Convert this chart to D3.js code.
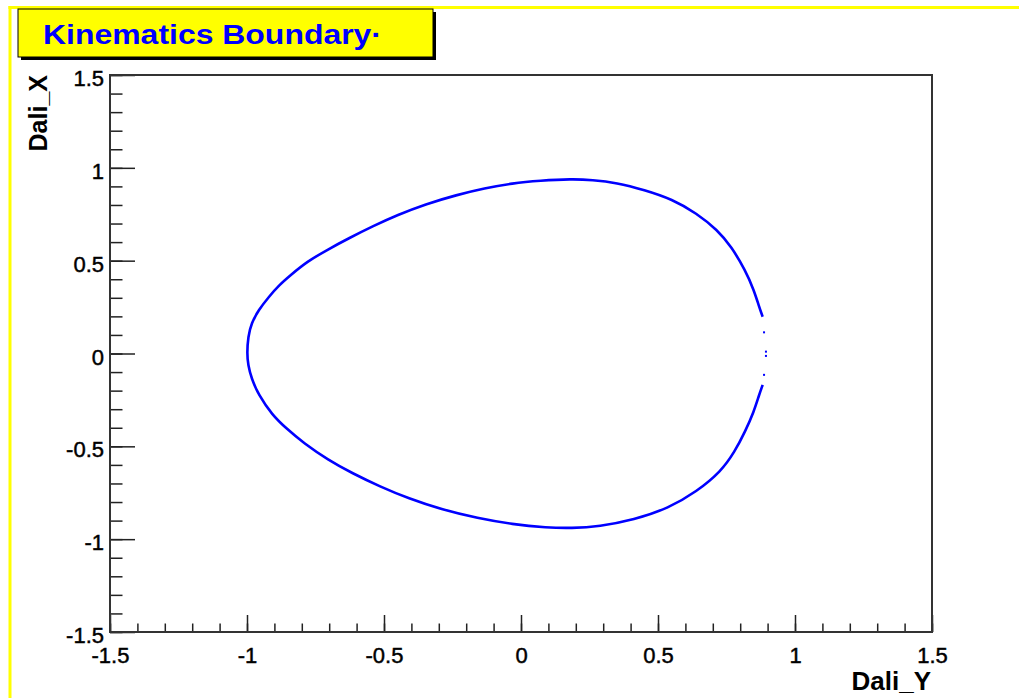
<!DOCTYPE html>
<html>
<head>
<meta charset="utf-8">
<script src="https://cdn.jsdelivr.net/npm/d3@7"></script>
<style>
  body { margin: 0; background: #fff; }
  svg { display: block; }
</style>
</head>
<body>
<div id="chart"></div>
<script>
// upper branch of the boundary (Dali_Y, Dali_X)
const upperY = [0.882, 0.869, 0.850, 0.818, 0.768, 0.717, 0.641, 0.552, 0.450, 0.349, 0.260, 0.184, 0.070, -0.032, -0.133, -0.235, -0.349, -0.451, -0.539, -0.628, -0.704, -0.781, -0.844, -0.882, -0.920, -0.958, -0.984, -0.996, -1.000]
const upperX = [0.198, 0.252, 0.342, 0.450, 0.575, 0.665, 0.755, 0.831, 0.881, 0.920, 0.935, 0.940, 0.931, 0.917, 0.890, 0.854, 0.804, 0.746, 0.687, 0.621, 0.561, 0.495, 0.418, 0.369, 0.306, 0.234, 0.163, 0.091, 0.000]
// lower branch
const lowerY = [-0.996, -0.984, -0.958, -0.908, -0.857, -0.793, -0.704, -0.616, -0.514, -0.412, -0.286, -0.159, -0.032, 0.095, 0.184, 0.285, 0.412, 0.539, 0.641, 0.730, 0.780, 0.818, 0.850, 0.869, 0.882]
const lowerX = [-0.062, -0.133, -0.223, -0.331, -0.403, -0.483, -0.573, -0.645, -0.717, -0.780, -0.842, -0.887, -0.920, -0.938, -0.941, -0.932, -0.896, -0.833, -0.744, -0.636, -0.529, -0.421, -0.313, -0.223, -0.169]
// loose points at the cusp
const cuspY = [0.887, 0.894, 0.894, 0.887]
const cuspX = [0.114, 0.010, -0.013, -0.115]

const majorTicks = [-1.5, -1, -0.5, 0, 0.5, 1, 1.5]
const tickLabels = ['-1.5', '-1', '-0.5', '0', '0.5', '1', '1.5']

const title = 'Kinematics Boundary·'
const xTitle = 'Dali_Y'
const yTitle = 'Dali_X'

const W = 1019, H = 698
const m = { left: 110, right: 932, top: 75, bottom: 632 }

const svg = d3.select('#chart').append('svg')
  .attr('width', W).attr('height', H)
  .style('font-family', '"Liberation Sans", Arial, Helvetica, sans-serif')

// yellow canvas border
svg.append('rect').attr('x', 8.5).attr('y', 6).attr('width', W).attr('height', 3).attr('fill', '#ffff00')
svg.append('rect').attr('x', 8.5).attr('y', 6).attr('width', 3).attr('height', H).attr('fill', '#ffff00')

const x = d3.scaleLinear().domain([-1.5, 1.5]).range([m.left, m.right])
const y = d3.scaleLinear().domain([-1.5, 1.5]).range([m.bottom, m.top])

const minor = d3.range(-15, 16).map(d => d / 10)
const fmt = d => tickLabels[majorTicks.indexOf(d)]

// x axis
const gx = svg.append('g').attr('transform', `translate(0,${m.bottom})`)
gx.append('g').call(d3.axisBottom(x).tickValues(minor).tickSize(-8.5).tickSizeOuter(0).tickFormat(''))
gx.append('g').call(d3.axisBottom(x).tickValues(majorTicks).tickSize(-17).tickSizeOuter(0).tickPadding(15).tickFormat(fmt))

// y axis
const gy = svg.append('g').attr('transform', `translate(${m.left},0)`)
gy.append('g').call(d3.axisLeft(y).tickValues(minor).tickSize(-12.5).tickSizeOuter(0).tickFormat(''))
gy.append('g').call(d3.axisLeft(y).tickValues(majorTicks).tickSize(-25).tickSizeOuter(0).tickPadding(6).tickFormat(fmt))

svg.selectAll('.domain').remove()
svg.selectAll('.tick line').attr('stroke', '#222').attr('stroke-width', 1.5)
svg.selectAll('.tick text').attr('font-size', 22).attr('fill', '#000')
  .attr('stroke', '#000').attr('stroke-width', 0.45)
  .style('font-family', '"Liberation Sans", Arial, sans-serif')
gy.selectAll('.tick text').attr('dy', '0.48em')

// frame
svg.append('rect')
  .attr('x', m.left).attr('y', m.top)
  .attr('width', m.right - m.left).attr('height', m.bottom - m.top)
  .attr('fill', 'none').attr('stroke', '#333').attr('stroke-width', 2)

// boundary
const line = d3.line().x(d => x(d[0])).y(d => y(d[1])).curve(d3.curveBasis)
const pts = upperY.map((d, i) => [d, upperX[i]]).concat(lowerY.map((d, i) => [d, lowerX[i]]))
svg.append('path')
  .attr('d', line(pts))
  .attr('fill', 'none').attr('stroke', '#0000ff').attr('stroke-width', 2.6)

svg.selectAll('.cusp').data(cuspY).enter().append('rect')
  .attr('class', 'cusp')
  .attr('x', (d) => x(d) - 1).attr('y', (d, i) => y(cuspX[i]) - 1)
  .attr('width', 2).attr('height', 2).attr('fill', '#0000ff')

// axis titles
svg.append('text')
  .attr('x', m.right - 1).attr('y', 690)
  .attr('text-anchor', 'end').attr('font-size', 26).attr('font-weight', 'bold')
  .text(xTitle)
svg.append('text')
  .attr('transform', `translate(47,${m.top}) rotate(-90)`)
  .attr('text-anchor', 'end').attr('font-size', 25).attr('font-weight', 'bold')
  .text(yTitle)

// title box
svg.append('rect').attr('x', 21).attr('y', 12).attr('width', 415).attr('height', 48).attr('fill', '#000')
svg.append('rect').attr('x', 18).attr('y', 9).attr('width', 415).attr('height', 48)
  .attr('fill', '#ffff00').attr('stroke', '#000').attr('stroke-width', 1)
svg.append('text')
  .attr('x', 43).attr('y', 44)
  .attr('font-size', 27).attr('font-weight', 'bold').attr('fill', '#0000ff')
  .attr('textLength', 339).attr('lengthAdjust', 'spacingAndGlyphs')
  .text(title)
</script>
</body>
</html>
